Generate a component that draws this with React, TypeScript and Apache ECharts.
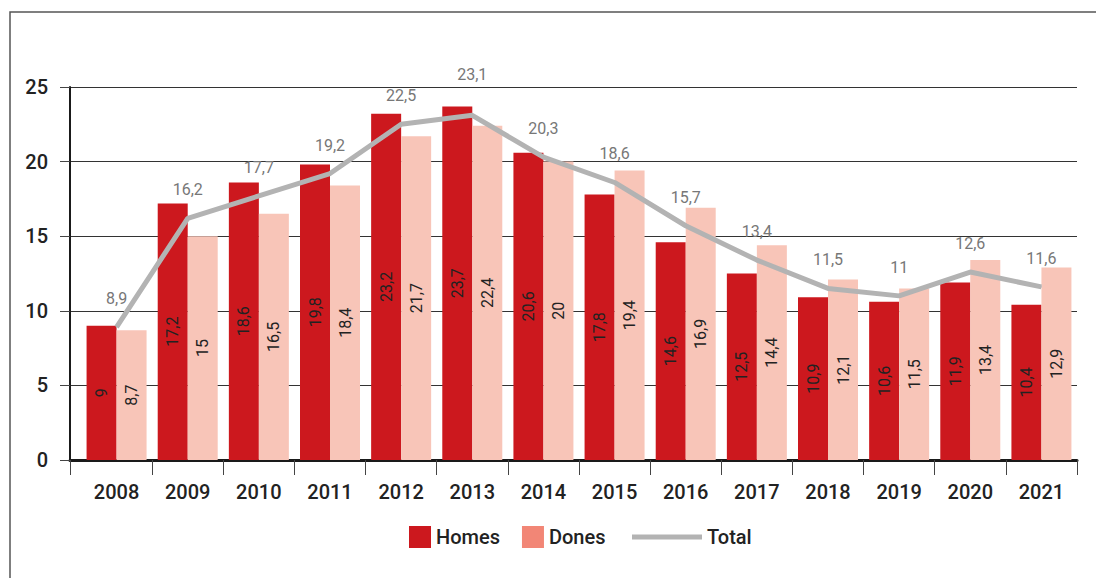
import React, { useEffect, useRef } from "react";
import * as echarts from "echarts";

const years = ["2008","2009","2010","2011","2012","2013","2014","2015","2016","2017","2018","2019","2020","2021"];
const homes = [9, 17.2, 18.6, 19.8, 23.2, 23.7, 20.6, 17.8, 14.6, 12.5, 10.9, 10.6, 11.9, 10.4];
const dones = [8.7, 15, 16.5, 18.4, 21.7, 22.4, 20, 19.4, 16.9, 14.4, 12.1, 11.5, 13.4, 12.9];
const total = [8.9, 16.2, 17.7, 19.2, 22.5, 23.1, 20.3, 18.6, 15.7, 13.4, 11.5, 11, 12.6, 11.6];

const FONT = "Roboto, 'Noto Sans', sans-serif";
const fmt = (v: number) => String(v).replace(".", ",");

export default function App() {
  const ref = useRef<HTMLDivElement>(null);
  useEffect(() => {
    document.body.style.margin = "0";
    const chart = echarts.init(ref.current!, undefined, { renderer: "svg" });
    const barLabel = {
      show: true,
      position: "inside",
      rotate: 90,
      color: "#222",
      fontSize: 16,
      fontFamily: FONT,
      formatter: (p: any) => fmt(p.value),
    };
    // the highest total label sits clear above the top gridline
    const maxTotal = Math.max(...total);
    const totalData = total.map((v) =>
      v === maxTotal ? { value: v, label: { distance: 32 } } : v
    );
    chart.setOption({
      animation: false,
      backgroundColor: "#ffffff",
      textStyle: { fontFamily: FONT },
      graphic: [
        {
          type: "rect",
          shape: { x: 10, y: 12, width: 1100, height: 600 },
          style: { fill: "none", stroke: "#555", lineWidth: 1.5 },
          silent: true,
        },
      ],
      grid: [
        { left: 70, right: 19, top: 87, bottom: 118, containLabel: false },
        { left: 81, right: 19, top: 87, bottom: 118, containLabel: false },
      ],
      xAxis: [
        {
          type: "value",
          gridIndex: 0,
          min: 0,
          max: 1,
          interval: 1,
          axisLine: { show: true, lineStyle: { color: "#1a1a1a", width: 3 } },
          axisTick: { show: true, length: 15, lineStyle: { color: "#444", width: 1 } },
          axisLabel: { show: false },
          splitLine: { show: false },
        },
        {
          type: "category",
          gridIndex: 1,
          data: years,
          axisLine: { show: false },
          axisTick: {
            show: true,
            length: 15,
            interval: (i: number) => i !== 0,
            lineStyle: { color: "#444", width: 1 },
          },
          axisLabel: { color: "#222", fontSize: 20, fontWeight: 500, margin: 22, fontFamily: FONT },
        },
      ],
      yAxis: [
        {
          type: "value",
          gridIndex: 0,
          min: 0,
          max: 25,
          interval: 5,
          axisLine: { show: true, lineStyle: { color: "#1a1a1a", width: 2 } },
          axisTick: { show: true, length: 10, lineStyle: { color: "#444", width: 1 } },
          axisLabel: { color: "#222", fontSize: 20, fontWeight: 500, margin: 22, fontFamily: FONT },
          splitLine: { show: true, lineStyle: { color: "#333", width: 1 } },
        },
        {
          type: "value",
          gridIndex: 1,
          min: 0,
          max: 25,
          interval: 5,
          axisLine: { show: false },
          axisTick: { show: false },
          axisLabel: { show: false },
          splitLine: { show: false },
        },
      ],
      legend: [
        {
          data: [
            { name: "Homes", itemStyle: { color: "#CC181E" } },
            { name: "Dones", itemStyle: { color: "#F28676" } },
          ],
          left: 404,
          top: 521,
          icon: "rect",
          itemWidth: 22,
          itemHeight: 22,
          itemGap: 22,
          textStyle: { color: "#222", fontSize: 20, fontWeight: 500, fontFamily: FONT },
        },
        {
          data: [{ name: "Total", itemStyle: { color: "#B3B3B3" } }],
          left: 627,
          top: 521,
          icon: "rect",
          itemWidth: 70,
          itemHeight: 5,
          textStyle: { color: "#222", fontSize: 20, fontWeight: 500, fontFamily: FONT, lineHeight: 22, height: 22 },
        },
      ],
      series: [
        {
          name: "Homes",
          type: "bar",
          xAxisIndex: 1,
          yAxisIndex: 1,
          data: homes,
          barWidth: 30,
          barGap: "0%",
          itemStyle: { color: "#CC181E" },
          label: barLabel,
        },
        {
          name: "Dones",
          type: "bar",
          xAxisIndex: 1,
          yAxisIndex: 1,
          data: dones,
          barWidth: 30,
          barGap: "0%",
          itemStyle: { color: "#F8C5B8" },
          label: barLabel,
        },
        {
          name: "Total",
          type: "line",
          xAxisIndex: 1,
          yAxisIndex: 1,
          data: totalData,
          symbol: "circle",
          symbolSize: 1,
          showSymbol: true,
          lineStyle: { color: "#B3B3B3", width: 5 },
          itemStyle: { color: "#B3B3B3" },
          z: 5,
          label: {
            show: true,
            position: "top",
            distance: 20,
            color: "#777",
            fontSize: 16,
            fontFamily: FONT,
            formatter: (p: any) => fmt(p.value),
          },
        },
      ],
    });
    return () => chart.dispose();
  }, []);
  return <div ref={ref} style={{ width: 1096, height: 578 }} />;
}
